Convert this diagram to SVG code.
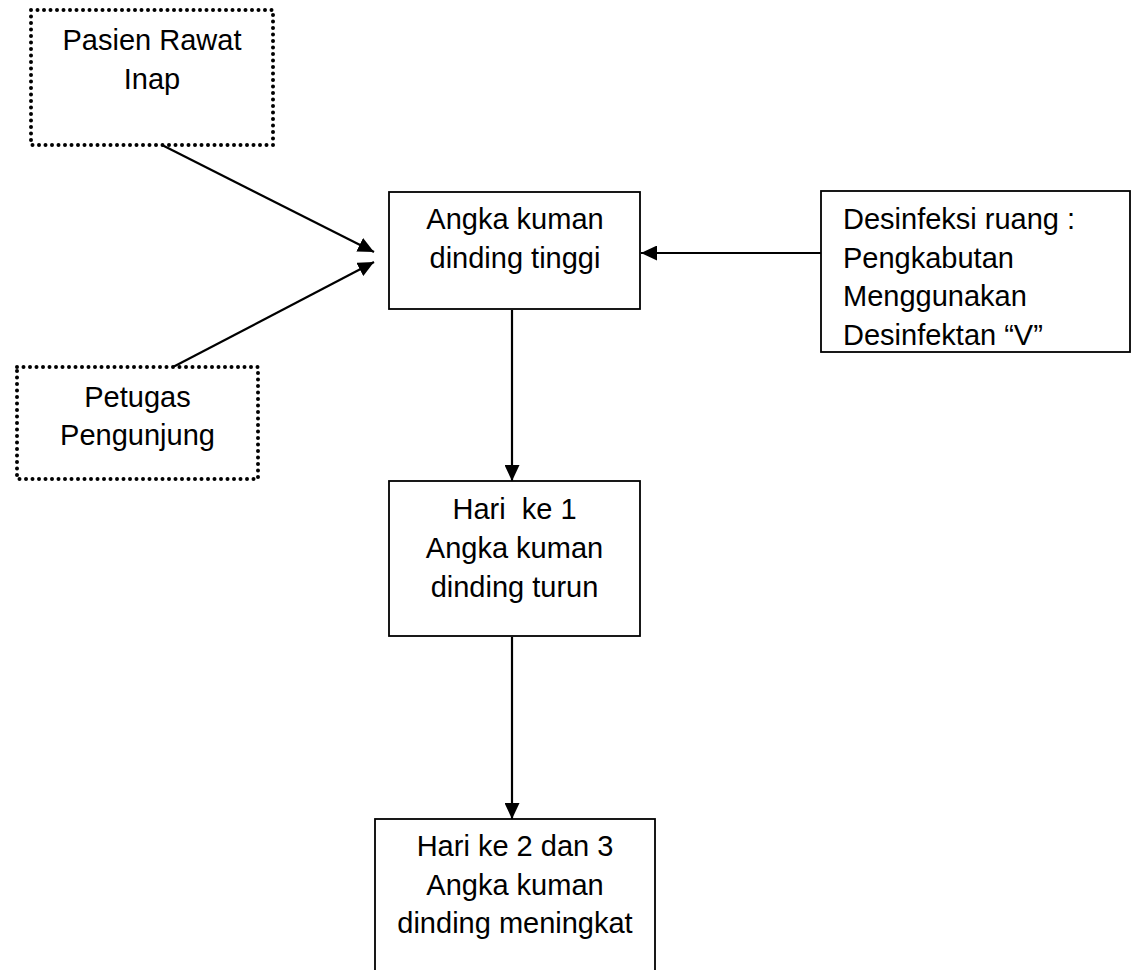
<svg xmlns="http://www.w3.org/2000/svg" width="1131" height="970" viewBox="0 0 1131 970">
<style>
.box{fill:#fff;stroke:#000;stroke-width:1.8}
.dot{fill:#fff;stroke:#000;stroke-width:4;stroke-linecap:round;stroke-dasharray:0 6.5}
.t{font-family:"Liberation Sans",Arial,sans-serif;font-size:29px;fill:#000}
.c{text-anchor:middle}
.ln{stroke:#000;stroke-width:2.2;fill:none;marker-end:url(#ah)}
</style>
<defs>
<marker id="ah" markerUnits="userSpaceOnUse" markerWidth="17" markerHeight="15" refX="16" refY="7.5" orient="auto">
<path d="M0,0 L16,7.5 L0,15 z" fill="#000"/>
</marker>
</defs>
<rect width="1131" height="970" fill="#fff"/>
<g id="connectors">
<line class="ln" x1="162" y1="145" x2="374" y2="252"/>
<line class="ln" x1="173" y1="367" x2="374" y2="262"/>
<line class="ln" x1="821" y1="253" x2="641" y2="253"/>
<line class="ln" x1="512" y1="310" x2="512" y2="481"/>
<line class="ln" x1="512" y1="637" x2="512" y2="819"/>
</g>
<g id="pasien">
<rect class="dot" x="31" y="10" width="242" height="135"/>
<text class="t c" x="152" y="50">Pasien Rawat</text>
<text class="t c" x="152" y="89">Inap</text>
</g>
<g id="petugas">
<rect class="dot" x="17" y="367" width="241" height="112"/>
<text class="t c" x="137.5" y="407">Petugas</text>
<text class="t c" x="137.5" y="445">Pengunjung</text>
</g>
<g id="angka">
<rect class="box" x="389" y="192" width="251" height="117"/>
<text class="t c" x="515" y="229">Angka kuman</text>
<text class="t c" x="515" y="267.5">dinding tinggi</text>
</g>
<g id="desinfeksi">
<rect class="box" x="821" y="191" width="309" height="161"/>
<text class="t" x="843" y="229">Desinfeksi ruang :</text>
<text class="t" x="843" y="267.5">Pengkabutan</text>
<text class="t" x="843" y="306">Menggunakan</text>
<text class="t" x="843" y="344.5">Desinfektan “V”</text>
</g>
<g id="hari1">
<rect class="box" x="389" y="481" width="251" height="155"/>
<text class="t c" x="514.5" y="519" xml:space="preserve">Hari  ke 1</text>
<text class="t c" x="514.5" y="558">Angka kuman</text>
<text class="t c" x="514.5" y="596.5">dinding turun</text>
</g>
<g id="hari23">
<rect class="box" x="375" y="819" width="280" height="200"/>
<text class="t c" x="515" y="856">Hari ke 2 dan 3</text>
<text class="t c" x="515" y="894.5">Angka kuman</text>
<text class="t c" x="515" y="933">dinding meningkat</text>
</g>
</svg>
